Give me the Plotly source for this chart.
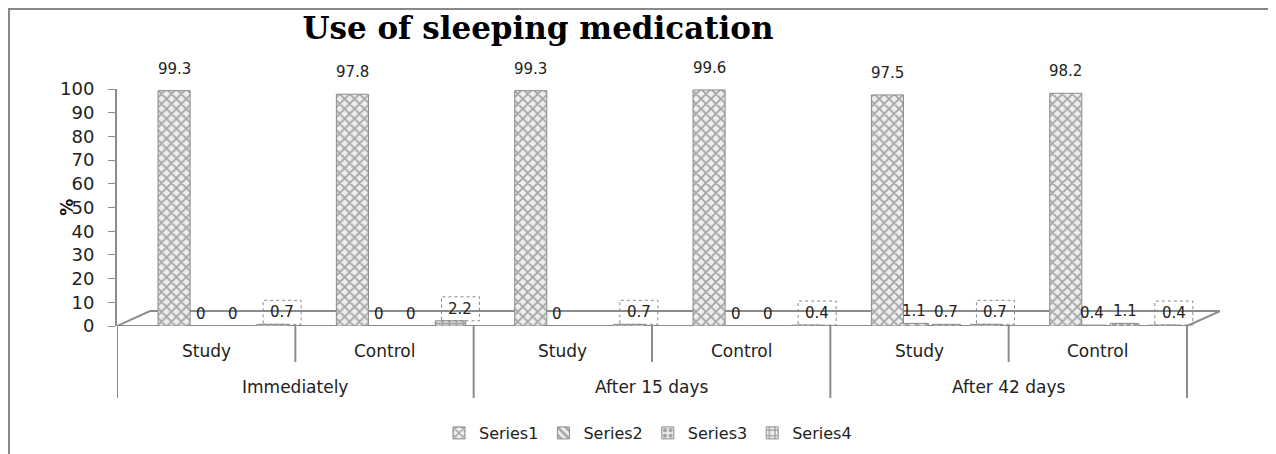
import plotly.graph_objects as go

# ---- data ----
groups = ["Immediately", "After 15 days", "After 42 days"]
categories = ["Study", "Control", "Study", "Control", "Study", "Control"]
series_names = ["Series1", "Series2", "Series3", "Series4"]
series1 = [99.3, 97.8, 99.3, 99.6, 97.5, 98.2]
series2 = [0, 0, 0, 0, 1.1, 0.4]
series3 = [0, 0, None, 0, 0.7, 1.1]
series4 = [0.7, 2.2, 0.7, 0.4, 0.7, 0.4]
y_ticks = [0, 10, 20, 30, 40, 50, 60, 70, 80, 90, 100]

# ---- styles ----
all_series = [series1, series2, series3, series4]
centers = [-0.18, -0.03, 0.15, 0.37]   # position of each series within a category
widths = [0.18, 0.16, 0.16, 0.17]
patterns = ["x", "\\", ".", "+"]
label_gap = [22, 12, 12, 12]
label_dx = [0, 0, 0, 10]
FONT = "DejaVu Sans"
GREY = "#8c8c8c"

W, H = 1268, 446
L, T, R, B = 109, 81, 56, 128

pos = list(range(len(categories)))
fig = go.Figure()
annotations = []
shapes = []
for k, (name, vals, c, w, p) in enumerate(zip(series_names, all_series, centers, widths, patterns)):
    fig.add_trace(go.Bar(
        x=pos, y=vals, name=name,
        offset=c - w / 2, width=w,
        marker=dict(color="white",
                    pattern=dict(shape=p, fgcolor="#5a5a5a", bgcolor="#eeeeee",
                                 size=7, solidity=0.45),
                    line=dict(color="#8a8a8a", width=1)),
    ))
    for i, v in enumerate(vals):
        if v is None:
            continue
        annotations.append(dict(x=i + c, y=v, xref="x", yref="y", text=f"{v:g}",
                                showarrow=False, yanchor="middle", xanchor="center",
                                xshift=label_dx[k], yshift=label_gap[k],
                                font=dict(family=FONT, size=15, color="#222")))
        if k == 3:
            shapes.append(dict(type="rect", xref="x", yref="y",
                               xsizemode="pixel", xanchor=i + c,
                               x0=label_dx[k] - 19, x1=label_dx[k] + 19,
                               ysizemode="pixel", yanchor=v,
                               y0=label_gap[k] - 12, y1=label_gap[k] + 12,
                               line=dict(color="#888", width=1, dash="dot")))

n = len(categories)
dx, dy = 0.185, 6.3   # 3D floor depth
shapes.append(dict(type="path", xref="x", yref="y", layer="below",
                   path=f"M -0.5,0 L {-0.5+dx},{dy} L {n-0.5+dx},{dy} L {n-0.5},0 Z",
                   fillcolor="white", line=dict(color=GREY, width=2)))
# category box lines
for i in range(n + 1):
    long_line = (i % 2 == 0)
    shapes.append(dict(type="line", xref="x", yref="paper",
                       x0=i - 0.5, x1=i - 0.5, y0=0, y1=-0.304 if long_line else -0.152,
                       line=dict(color=GREY, width=2)))
# outer frame
plot_w, plot_h = W - L - R, H - T - B
shapes.append(dict(type="rect", xref="paper", yref="paper",
                   x0=(1 - L) / plot_w, x1=1.3, y0=-1.0, y1=(plot_h + T - 1) / plot_h,
                   line=dict(color="#888", width=2)))

for i, c in enumerate(categories):
    annotations.append(dict(x=i, y=-0.105, xref="x", yref="paper", text=c,
                            showarrow=False, yanchor="middle", xanchor="center",
                            font=dict(family=FONT, size=17, color="#222")))
for g, name in enumerate(groups):
    annotations.append(dict(x=2 * g + 0.5, y=-0.257, xref="x", yref="paper", text=name,
                            showarrow=False, yanchor="middle", xanchor="center",
                            font=dict(family=FONT, size=17, color="#222")))
annotations.append(dict(x=-0.046, y=50, xref="paper", yref="y", text="<b>%</b>",
                        textangle=-90, showarrow=False, xanchor="center", yanchor="middle",
                        font=dict(family=FONT, size=17, color="#111")))

fig.update_layout(
    width=W, height=H,
    margin=dict(l=L, r=R, t=T, b=B),
    paper_bgcolor="white", plot_bgcolor="rgba(0,0,0,0)",
    barmode="overlay",
    title=dict(text="<b>Use of sleeping medication</b>", x=530 / W, xanchor="center",
               y=1 - 20 / H, yanchor="middle", yref="container",
               font=dict(family="DejaVu Serif", size=31, color="black")),
    xaxis=dict(range=[-0.5, n - 0.5 + dx], showticklabels=False, showgrid=False,
               zeroline=False, showline=False, ticks=""),
    yaxis=dict(range=[0, 100], tickvals=y_ticks, showgrid=False, zeroline=False,
               showline=True, linecolor=GREY, linewidth=2,
               ticks="outside", ticklen=7, tickcolor=GREY, tickwidth=1,
               ticklabelstandoff=10,
               tickfont=dict(family=FONT, size=18, color="#222")),
    legend=dict(orientation="h", x=640 / W, xanchor="center", xref="container",
                y=21 / H, yanchor="middle", yref="container",
                font=dict(family=FONT, size=16, color="#222")),
    shapes=shapes, annotations=annotations,
)

fig.write_html("out.html")
